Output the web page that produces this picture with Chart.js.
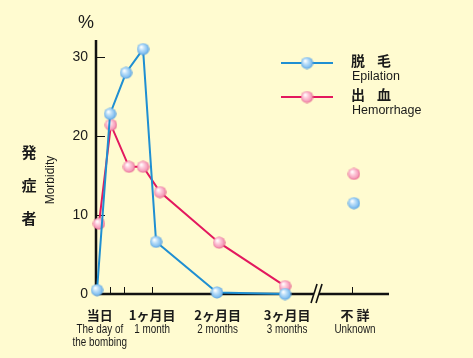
<!DOCTYPE html>
<html>
<head>
<meta charset="utf-8">
<script src="https://cdn.jsdelivr.net/npm/chart.js@4/dist/chart.umd.min.js"></script>
<style>
  html, body { margin: 0; padding: 0; background: #fffbd0; }
  canvas { display: block; }
</style>
</head>
<body>
<canvas id="grafico" width="473" height="358"></canvas>
<script>
// eje x: días aproximados después de la bomba (eje esquemático)
const x_epilacion = [0.5, 6.7, 14.3, 22.4, 28.6, 57.6, 90];
const y_epilacion = [0.5, 22.8, 28.0, 31.0, 6.6, 0.2, 0];
const x_hemorragia = [1.4, 7.1, 15.7, 22.4, 30.5, 58.6, 90];
const y_hemorragia = [8.9, 21.4, 16.1, 16.1, 12.9, 6.5, 1.0];
const x_desconocido = 122.8;
const desconocido_epilacion = [11.5];
const desconocido_hemorragia = [15.2];

const y_ticks = [0, 10, 20, 30];
const x_ticks_menores = [6.7, 13.3, 26.7, 122];
const x_pos_etiquetas = [1.8, 26.7, 57.9, 91, 123.3];
const etiquetas_jp = ["当日", "1ヶ月目", "2ヶ月目", "3ヶ月目", "不 詳"];
const etiquetas_en = [["The day of", "the bombing"], ["1 month"], ["2 months"], ["3 months"], ["Unknown"]];
const x_corte = 105;
const series_jp = ["脱", "毛", "出", "血"];
const series_en = ["Epilation", "Hemorrhage"];

const FONDO = "#fffbd0";
const AZUL = "#1f8fd2";
const ROJO = "#e3185e";
const CJK = '"Noto Sans CJK JP", "Noto Sans CJK SC", sans-serif';
const LAT = '"Liberation Sans", Arial, sans-serif';

// bolita con brillo
function crear_bola(claro, medio, oscuro) {
  const c = document.createElement("canvas");
  c.width = 13;
  c.height = 13;
  const g = c.getContext("2d");
  const grad = g.createRadialGradient(4.6, 4.3, 0.5, 6.5, 6.5, 6.6);
  grad.addColorStop(0, "#ffffff");
  grad.addColorStop(0.3, claro);
  grad.addColorStop(0.75, medio);
  grad.addColorStop(1, oscuro);
  g.fillStyle = grad;
  g.beginPath();
  g.arc(6.5, 6.5, 6.1, 0, Math.PI * 2);
  g.fill();
  return c;
}
const bola_azul = crear_bola("#c4e3fa", "#82bff0", "#3d8fd8");
const bola_roja = crear_bola("#ffd0de", "#f59ab8", "#de4a78");

function pares(xs, ys) {
  return xs.map((x, i) => ({ x: x, y: ys[i] }));
}

const plugin_dibujo = {
  id: "dibujo",
  beforeDraw(chart) {
    const ctx = chart.ctx;
    ctx.save();
    ctx.fillStyle = FONDO;
    ctx.fillRect(0, 0, chart.width, chart.height);
    ctx.restore();
  },
  beforeDatasetsDraw(chart) {
    const ctx = chart.ctx;
    const a = chart.chartArea;
    const sx = chart.scales.x;
    const sy = chart.scales.y;
    ctx.save();
    ctx.strokeStyle = "#111";
    // ejes
    ctx.lineWidth = 2.5;
    ctx.beginPath();
    ctx.moveTo(a.left, a.top);
    ctx.lineTo(a.left, a.bottom);
    ctx.lineTo(a.right, a.bottom);
    ctx.stroke();
    // marcas del eje y
    ctx.lineWidth = 1;
    y_ticks.slice(1).forEach((v) => {
      const py = Math.round(sy.getPixelForValue(v)) + 0.5;
      ctx.beginPath();
      ctx.moveTo(a.left, py);
      ctx.lineTo(a.left + 9, py);
      ctx.stroke();
    });
    // marcas del eje x
    x_ticks_menores.forEach((v) => {
      const px = Math.round(sx.getPixelForValue(v)) + 0.5;
      ctx.beginPath();
      ctx.moveTo(px, a.bottom);
      ctx.lineTo(px, a.bottom - 7);
      ctx.stroke();
    });
    // corte del eje
    const pc = sx.getPixelForValue(x_corte);
    ctx.fillStyle = FONDO;
    ctx.fillRect(pc - 2.5, a.bottom - 3, 5, 6);
    ctx.lineWidth = 1.6;
    [-2.5, 2.5].forEach((d) => {
      ctx.beginPath();
      ctx.moveTo(pc + d - 3, a.bottom + 9);
      ctx.lineTo(pc + d + 3, a.bottom - 10);
      ctx.stroke();
    });
    ctx.restore();
  },
  afterDraw(chart) {
    const ctx = chart.ctx;
    const a = chart.chartArea;
    const sx = chart.scales.x;
    ctx.save();
    ctx.fillStyle = "#1a1a1a";
    ctx.textBaseline = "middle";
    ctx.textAlign = "center";

    // "%"
    ctx.font = "18px " + LAT;
    ctx.fillText("%", a.left - 10, 23);

    // título vertical
    ctx.font = "bold 15px " + CJK;
    ["発", "症", "者"].forEach((t, i) => ctx.fillText(t, 29, 152 + i * 33));
    ctx.save();
    ctx.translate(51, 180);
    ctx.rotate(-Math.PI / 2);
    ctx.font = "12px " + LAT;
    ctx.fillText("Morbidity", 0, 0);
    ctx.restore();

    // etiquetas del eje x
    x_pos_etiquetas.forEach((v, i) => {
      const px = sx.getPixelForValue(v);
      ctx.font = "600 13px " + CJK;
      ctx.fillText(etiquetas_jp[i], px, a.bottom + 21);
      etiquetas_en[i].forEach((t, j) => {
        ctx.save();
        ctx.translate(px, a.bottom + 35 + j * 13.5);
        ctx.scale(0.76, 1);
        ctx.font = "13px " + LAT;
        ctx.fillText(t, 0, 0);
        ctx.restore();
      });
    });

    // leyenda
    const filas = [
      { y: 63, color: AZUL, bola: bola_azul },
      { y: 97, color: ROJO, bola: bola_roja },
    ];
    filas.forEach((f, i) => {
      ctx.strokeStyle = f.color;
      ctx.lineWidth = 2;
      ctx.beginPath();
      ctx.moveTo(281, f.y);
      ctx.lineTo(333, f.y);
      ctx.stroke();
      ctx.drawImage(f.bola, 307 - 6.5, f.y - 6.5);
      ctx.textAlign = "left";
      ctx.font = "bold 14px " + CJK;
      ctx.fillText(series_jp[i * 2], 351, f.y - 2);
      ctx.fillText(series_jp[i * 2 + 1], 377, f.y - 2);
      ctx.font = "12.5px " + LAT;
      ctx.fillText(series_en[i], 352, f.y + 14);
    });
    ctx.restore();
  },
};

const ctx = document.getElementById("grafico").getContext("2d");
const grafico = new Chart(ctx, {
  type: "line",
  data: {
    datasets: [
      {
        label: "脱毛 Epilation",
        data: pares(x_epilacion, y_epilacion),
        borderColor: AZUL,
        borderWidth: 2,
        pointStyle: bola_azul,
        pointRadius: 6,
        tension: 0,
        clip: false,
      },
      {
        label: "出血 Hemorrhage",
        data: pares(x_hemorragia, y_hemorragia),
        borderColor: ROJO,
        borderWidth: 2,
        pointStyle: bola_roja,
        pointRadius: 6,
        tension: 0,
        clip: false,
      },
      {
        label: "不詳 脱毛",
        data: pares([x_desconocido], desconocido_epilacion),
        showLine: false,
        pointStyle: bola_azul,
        pointRadius: 6,
        clip: false,
      },
      {
        label: "不詳 出血",
        data: pares([x_desconocido], desconocido_hemorragia),
        showLine: false,
        pointStyle: bola_roja,
        pointRadius: 6,
        clip: false,
      },
    ],
  },
  options: {
    responsive: false,
    animation: false,
    devicePixelRatio: 1,
    layout: { padding: { left: 0, right: 84, top: 40, bottom: 64 } },
    plugins: {
      legend: { display: false },
      tooltip: { enabled: false },
    },
    scales: {
      x: {
        type: "linear",
        display: false,
        min: 0,
        max: 139.5,
      },
      y: {
        min: 0,
        max: 32.15,
        afterFit: (scale) => {
          scale.width = 96;
        },
        afterBuildTicks: (scale) => {
          scale.ticks = y_ticks.map((v) => ({ value: v }));
        },
        grid: { display: false, drawTicks: false },
        border: { display: false },
        ticks: {
          padding: 8,
          color: "#1a1a1a",
          font: { family: "Liberation Sans", size: 14 },
        },
      },
    },
  },
  plugins: [plugin_dibujo],
});
</script>
</body>
</html>
